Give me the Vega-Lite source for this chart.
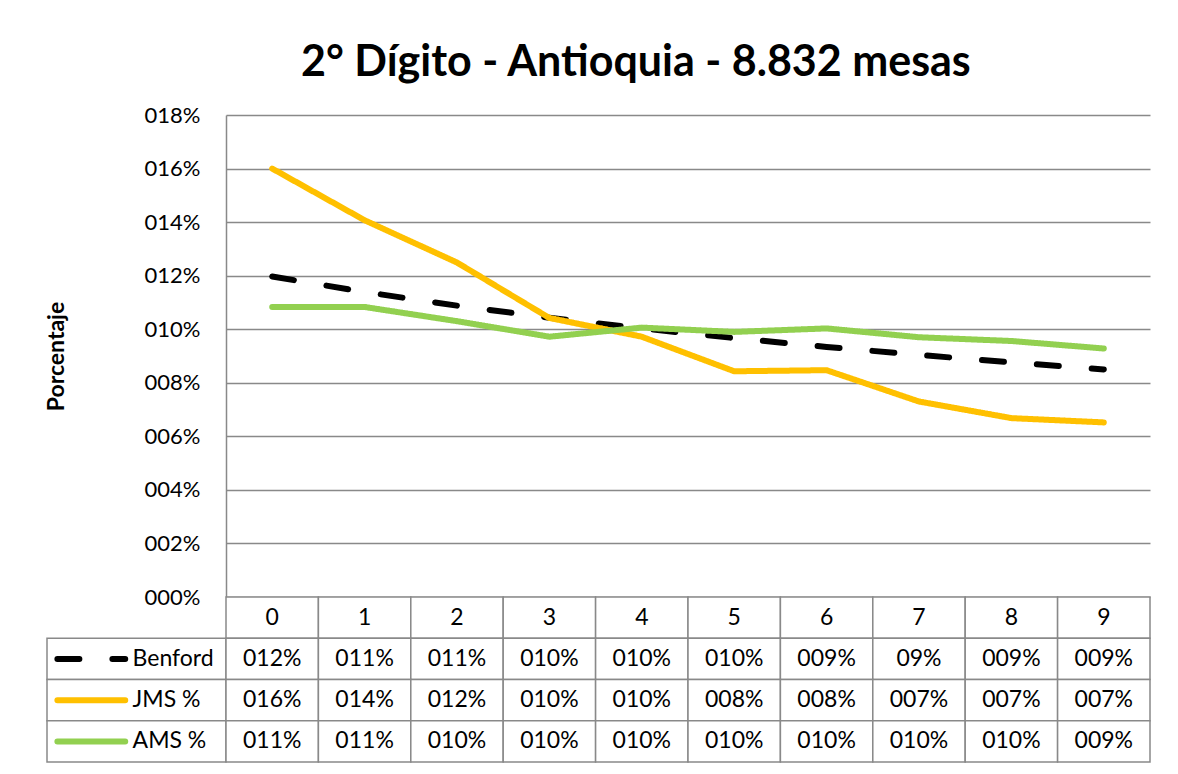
{
  "$schema": "https://vega.github.io/schema/vega-lite/v6.json",
  "background": "white",
  "padding": {"left": 45, "top": 42, "right": 28, "bottom": 10},
  "title": {
    "text": "2° Dígito - Antioquia - 8.832 mesas",
    "font": "Lato",
    "fontSize": 43,
    "fontWeight": "bold",
    "color": "#000000",
    "anchor": "middle",
    "offset": 19,
    "dx": 38
  },
  "datasets": {
    "d": [
      {"series": "Benford", "digit": "0", "value": 0.1197, "label": "012%"},
      {"series": "Benford", "digit": "1", "value": 0.1139, "label": "011%"},
      {"series": "Benford", "digit": "2", "value": 0.1088, "label": "011%"},
      {"series": "Benford", "digit": "3", "value": 0.1043, "label": "010%"},
      {"series": "Benford", "digit": "4", "value": 0.1003, "label": "010%"},
      {"series": "Benford", "digit": "5", "value": 0.0967, "label": "010%"},
      {"series": "Benford", "digit": "6", "value": 0.0934, "label": "009%"},
      {"series": "Benford", "digit": "7", "value": 0.0904, "label": "09%"},
      {"series": "Benford", "digit": "8", "value": 0.0876, "label": "009%"},
      {"series": "Benford", "digit": "9", "value": 0.0850, "label": "009%"},
      {"series": "JMS %", "digit": "0", "value": 0.1600, "label": "016%"},
      {"series": "JMS %", "digit": "1", "value": 0.1407, "label": "014%"},
      {"series": "JMS %", "digit": "2", "value": 0.1249, "label": "012%"},
      {"series": "JMS %", "digit": "3", "value": 0.1042, "label": "010%"},
      {"series": "JMS %", "digit": "4", "value": 0.0972, "label": "010%"},
      {"series": "JMS %", "digit": "5", "value": 0.0843, "label": "008%"},
      {"series": "JMS %", "digit": "6", "value": 0.0847, "label": "008%"},
      {"series": "JMS %", "digit": "7", "value": 0.0730, "label": "007%"},
      {"series": "JMS %", "digit": "8", "value": 0.0668, "label": "007%"},
      {"series": "JMS %", "digit": "9", "value": 0.0652, "label": "007%"},
      {"series": "AMS %", "digit": "0", "value": 0.1083, "label": "011%"},
      {"series": "AMS %", "digit": "1", "value": 0.1083, "label": "011%"},
      {"series": "AMS %", "digit": "2", "value": 0.1030, "label": "010%"},
      {"series": "AMS %", "digit": "3", "value": 0.0972, "label": "010%"},
      {"series": "AMS %", "digit": "4", "value": 0.1006, "label": "010%"},
      {"series": "AMS %", "digit": "5", "value": 0.0990, "label": "010%"},
      {"series": "AMS %", "digit": "6", "value": 0.1003, "label": "010%"},
      {"series": "AMS %", "digit": "7", "value": 0.0970, "label": "010%"},
      {"series": "AMS %", "digit": "8", "value": 0.0956, "label": "010%"},
      {"series": "AMS %", "digit": "9", "value": 0.0928, "label": "009%"}
    ]
  },
  "columns": 2,
  "spacing": 0,
  "bounds": "flush",
  "concat": [
    {
      "width": 179,
      "height": 482,
      "data": {"values": [{"t": ""}]},
      "mark": {"type": "text"},
      "encoding": {"text": {"field": "t"}}
    },
    {
      "width": 924,
      "height": 482,
      "data": {"name": "d"},
      "mark": {"type": "line", "strokeWidth": 6, "strokeCap": "round", "strokeJoin": "round"},
      "encoding": {
        "x": {
          "field": "digit",
          "type": "ordinal",
          "scale": {"type": "band", "paddingInner": 0, "paddingOuter": 0},
          "axis": null
        },
        "y": {
          "field": "value",
          "type": "quantitative",
          "scale": {"domain": [0, 0.18], "nice": false},
          "axis": {
            "values": [0, 0.02, 0.04, 0.06, 0.08, 0.1, 0.12, 0.14, 0.16, 0.18],
            "format": "04.0%",
            "title": "Porcentaje",
            "ticks": false,
            "labelPadding": 26,
            "titlePadding": 76
          }
        },
        "color": {
          "field": "series",
          "type": "nominal",
          "scale": {"domain": ["Benford", "JMS %", "AMS %"], "range": ["#000000", "#FFC000", "#92D050"]},
          "legend": null
        },
        "strokeDash": {
          "field": "series",
          "type": "nominal",
          "scale": {"domain": ["Benford", "JMS %", "AMS %"], "range": [[22, 33], [1, 0], [1, 0]]},
          "legend": null
        }
      }
    },
    {
      "width": 179,
      "height": 165,
      "data": {"name": "d"},
      "transform": [{"filter": "datum.digit == '0'"}],
      "encoding": {
        "y": {
          "field": "series",
          "type": "nominal",
          "scale": {"domain": ["hdr", "Benford", "JMS %", "AMS %"], "paddingInner": 0, "paddingOuter": 0},
          "axis": null
        }
      },
      "layer": [
        {
          "mark": {"type": "rect", "fill": "white", "stroke": "#898989", "strokeWidth": 1.5},
          "encoding": {
            "x": {"datum": 0, "type": "quantitative", "scale": {"domain": [0, 1], "nice": false}, "axis": null},
            "x2": {"datum": 1}
          }
        },
        {
          "mark": {"type": "rule", "strokeWidth": 6, "strokeCap": "round"},
          "encoding": {
            "x": {"datum": 0.058, "type": "quantitative"},
            "x2": {"datum": 0.437},
            "color": {
              "field": "series",
              "type": "nominal",
              "scale": {"domain": ["Benford", "JMS %", "AMS %"], "range": ["#000000", "#FFC000", "#92D050"]},
              "legend": null
            },
            "strokeDash": {
              "field": "series",
              "type": "nominal",
              "scale": {"domain": ["Benford", "JMS %", "AMS %"], "range": [[22, 33], [1, 0], [1, 0]]},
              "legend": null
            }
          }
        },
        {
          "mark": {"type": "text", "align": "left", "baseline": "middle", "fontSize": 23, "color": "#000000"},
          "encoding": {
            "x": {"datum": 0.478, "type": "quantitative"},
            "text": {"field": "series"}
          }
        }
      ]
    },
    {
      "width": 924,
      "height": 165,
      "data": {"name": "d"},
      "encoding": {
        "x": {
          "field": "digit",
          "type": "ordinal",
          "scale": {"type": "band", "paddingInner": 0, "paddingOuter": 0},
          "axis": null
        }
      },
      "layer": [
        {
          "transform": [{"filter": "datum.series == 'Benford'"}],
          "mark": {"type": "rect", "fill": "white", "stroke": "#898989", "strokeWidth": 1.5},
          "encoding": {
            "y": {
              "datum": "hdr",
              "type": "nominal",
              "scale": {"domain": ["hdr", "Benford", "JMS %", "AMS %"], "paddingInner": 0, "paddingOuter": 0},
              "axis": null
            }
          }
        },
        {
          "mark": {"type": "rect", "fill": "white", "stroke": "#898989", "strokeWidth": 1.5},
          "encoding": {
            "y": {"field": "series", "type": "nominal"}
          }
        },
        {
          "transform": [{"filter": "datum.series == 'Benford'"}],
          "mark": {"type": "text", "baseline": "middle", "fontSize": 23, "color": "#000000"},
          "encoding": {
            "y": {"datum": "hdr", "type": "nominal"},
            "text": {"field": "digit"}
          }
        },
        {
          "mark": {"type": "text", "baseline": "middle", "fontSize": 23, "color": "#000000"},
          "encoding": {
            "y": {"field": "series", "type": "nominal"},
            "text": {"field": "label"}
          }
        }
      ]
    }
  ],
  "config": {
    "font": "Lato",
    "view": {"stroke": null},
    "axis": {
      "labelFont": "Lato",
      "labelFontSize": 22,
      "labelColor": "#000000",
      "titleFont": "Lato",
      "titleFontSize": 23,
      "titleFontWeight": "bold",
      "titleColor": "#000000",
      "domainColor": "#898989",
      "domainWidth": 1.5,
      "gridColor": "#898989",
      "gridWidth": 1.5
    }
  }
}
